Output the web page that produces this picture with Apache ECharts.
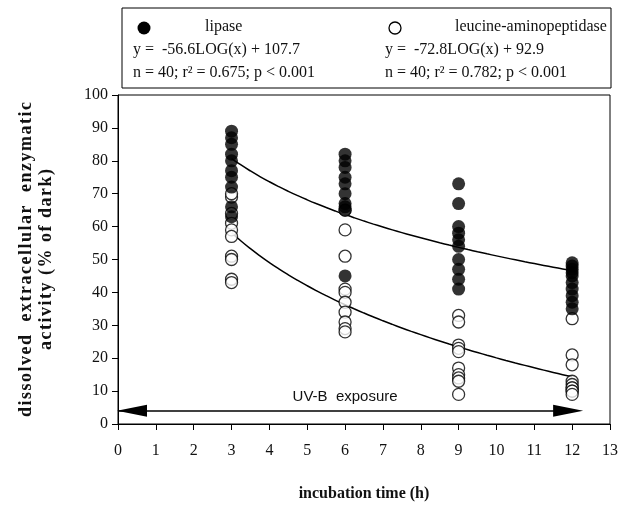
<!DOCTYPE html>
<html>
<head>
<meta charset="utf-8">
<script src="https://cdn.jsdelivr.net/npm/echarts@6/dist/echarts.min.js"></script>
<style>
html, body { margin: 0; padding: 0; background: #fff; }
#chart { width: 631px; height: 515px; }
</style>
</head>
<body>
<div id="chart"></div>
<script>
// incubation times (h)
var times = [3, 6, 9, 12];

// lipase (filled), 10 replicates per time
var lipase = [
    [89, 87, 85, 82, 80, 77, 75, 72, 66, 63],
    [82, 80, 78, 75, 73, 70, 67, 66, 65, 45],
    [73, 67, 60, 58, 56, 54, 50, 47, 44, 41],
    [49, 48, 47, 46, 45, 43, 41, 39, 37, 35]
];

// leucine-aminopeptidase (open), 10 replicates per time
var leucine = [
    [69, 64, 61, 59, 57, 51, 50, 44, 43, 70],
    [59, 51, 41, 40, 37, 34, 31, 29, 28, 65],
    [33, 31, 24, 23, 17, 15, 14, 13, 9, 22],
    [32, 21, 18, 13, 12, 11, 11, 10, 10, 9]
];

// regression y = a*LOG(x) + b
var lipaseFit = [-56.6, 107.7];
var leucineFit = [-72.8, 92.9];
var fitRange = [3, 12];

// UV-B exposure arrow
var uvRange = [0, 12];
var uvLevel = 4;

function toPoints(groups) {
    var pts = [];
    groups.forEach(function (vals, i) {
        vals.forEach(function (v) { pts.push([times[i], v]); });
    });
    return pts;
}

function fitCurve(c) {
    var pts = [];
    for (var x = fitRange[0]; x <= fitRange[1] + 1e-9; x += 0.25) {
        pts.push([x, c[0] * Math.log10(x) + c[1]]);
    }
    return pts;
}

// slightly wider letter spacing, like the original typesetting
function spaced(s) {
    return s.split('').join('\u200A');
}

var serif = '"Liberation Serif", "Times New Roman", serif';
var sans = '"Liberation Sans", Arial, sans-serif';
var legendFont = '16px ' + serif;

var chart = echarts.init(document.getElementById('chart'), null, { renderer: 'canvas' });

chart.setOption({
    animation: false,
    backgroundColor: '#fff',
    grid: {
        left: 118, right: 21, top: 95, bottom: 91,
        show: true, borderColor: '#000', borderWidth: 1
    },
    xAxis: {
        type: 'value', min: 0, max: 13, interval: 1,
        name: 'incubation time (h)',
        nameLocation: 'middle', nameGap: 62,
        nameTextStyle: { fontFamily: serif, fontWeight: 'bold', fontSize: 16, color: '#111' },
        axisLine: { lineStyle: { color: '#000', width: 1 } },
        axisTick: { length: 6, lineStyle: { color: '#000' } },
        axisLabel: { fontFamily: serif, fontSize: 16, color: '#111', margin: 19 },
        splitLine: { show: false }
    },
    yAxis: {
        type: 'value', min: 0, max: 100, interval: 10,
        name: spaced('dissolved  extracellular  enzymatic') + '\n' + spaced('activity (% of dark)'),
        nameLocation: 'middle', nameGap: 62,
        nameTextStyle: { fontFamily: serif, fontWeight: 'bold', fontSize: 18, color: '#111', lineHeight: 20 },
        axisLine: { lineStyle: { color: '#000', width: 1 } },
        axisTick: { length: 6, lineStyle: { color: '#000' } },
        axisLabel: { fontFamily: serif, fontSize: 16, color: '#111', margin: 10 },
        splitLine: { show: false }
    },
    graphic: [
        {
            type: 'rect', shape: { x: 122, y: 8, width: 489, height: 80 },
            style: { fill: '#fff', stroke: '#000', lineWidth: 1 }
        },
        { type: 'circle', shape: { cx: 144, cy: 28, r: 6.5 }, style: { fill: '#000' } },
        { type: 'text', left: 205, top: 19, style: { text: 'lipase', font: legendFont, fill: '#111' } },
        { type: 'text', left: 133, top: 42, style: { text: 'y =  -56.6LOG(x) + 107.7', font: legendFont, fill: '#111' } },
        { type: 'text', left: 133, top: 65, style: { text: 'n = 40; r\u00b2 = 0.675; p < 0.001', font: legendFont, fill: '#111' } },
        { type: 'circle', shape: { cx: 395, cy: 28, r: 6 }, style: { fill: '#fff', stroke: '#000', lineWidth: 1.3 } },
        { type: 'text', left: 455, top: 19, style: { text: 'leucine-aminopeptidase', font: legendFont, fill: '#111' } },
        { type: 'text', left: 385, top: 42, style: { text: 'y =  -72.8LOG(x) + 92.9', font: legendFont, fill: '#111' } },
        { type: 'text', left: 385, top: 65, style: { text: 'n = 40; r\u00b2 = 0.782; p < 0.001', font: legendFont, fill: '#111' } }
    ],
    series: [
        {
            name: 'lipase fit', type: 'line', data: fitCurve(lipaseFit),
            showSymbol: false, smooth: true, z: 1,
            lineStyle: { color: '#000', width: 1.5 }
        },
        {
            name: 'leucine fit', type: 'line', data: fitCurve(leucineFit),
            showSymbol: false, smooth: true, z: 1,
            lineStyle: { color: '#000', width: 1.5 }
        },
        {
            name: 'leucine-aminopeptidase', type: 'scatter', data: toPoints(leucine),
            symbol: 'circle', symbolSize: 12, z: 2,
            itemStyle: { color: '#fff', borderColor: '#000', borderWidth: 1.3 }
        },
        {
            name: 'lipase', type: 'scatter', data: toPoints(lipase),
            symbol: 'circle', symbolSize: 13, z: 3,
            itemStyle: { color: '#000' },
            markLine: {
                silent: true,
                symbol: ['triangle', 'triangle'],
                symbolSize: [12, 30],
                symbolOffset: [[0, 14], [0, 4]],
                lineStyle: { color: '#000', width: 1.6, type: 'solid' },
                label: {
                    show: true, position: 'middle',
                    formatter: 'UV-B  exposure',
                    fontFamily: sans, fontSize: 15, color: '#111',
                    distance: 6
                },
                data: [[
                    { coord: [uvRange[0], uvLevel] },
                    { coord: [uvRange[1], uvLevel] }
                ]]
            }
        }
    ]
});
</script>
</body>
</html>
